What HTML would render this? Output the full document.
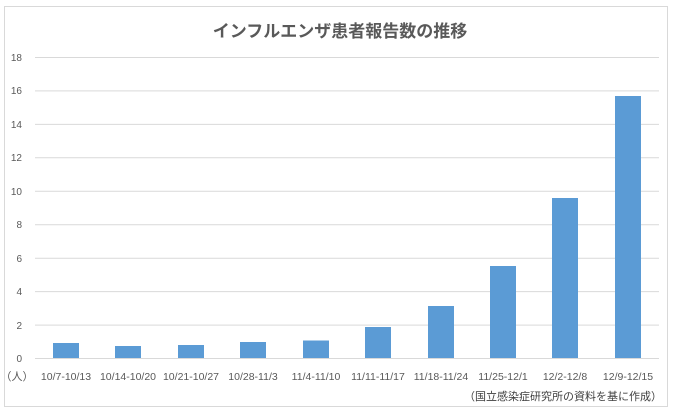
<!DOCTYPE html>
<html><head><meta charset="utf-8"><style>
body{margin:0;background:#fff;}
svg{display:block;font-family:"Liberation Sans","Noto Sans CJK JP",sans-serif;}
</style></head><body>
<svg width="680" height="413" xmlns="http://www.w3.org/2000/svg">
<rect x="4.5" y="6.5" width="663" height="400" fill="#fff" stroke="#d9d9d9"/>
<text x="340" y="37" text-anchor="middle" font-size="17" font-weight="bold" fill="#595959">インフルエンザ患者報告数の推移</text>
<g stroke="#d9d9d9" stroke-width="1">
<line x1="35" x2="659" y1="57.5" y2="57.5"/>
<line x1="35" x2="659" y1="90.9" y2="90.9"/>
<line x1="35" x2="659" y1="124.4" y2="124.4"/>
<line x1="35" x2="659" y1="157.8" y2="157.8"/>
<line x1="35" x2="659" y1="191.3" y2="191.3"/>
<line x1="35" x2="659" y1="224.7" y2="224.7"/>
<line x1="35" x2="659" y1="258.2" y2="258.2"/>
<line x1="35" x2="659" y1="291.6" y2="291.6"/>
<line x1="35" x2="659" y1="325.1" y2="325.1"/>
<line x1="35" x2="659" y1="358.5" y2="358.5"/>
</g>
<g font-size="10" fill="#595959" text-anchor="end">
<text x="22" y="61">18</text><text x="22" y="94">16</text><text x="22" y="128">14</text>
<text x="22" y="161">12</text><text x="22" y="195">10</text><text x="22" y="228">8</text>
<text x="22" y="262">6</text><text x="22" y="295">4</text><text x="22" y="329">2</text>
<text x="22" y="362">0</text>
</g>
<g fill="#5b9bd5">
<rect x="53" y="343" width="26" height="15"/>
<rect x="115" y="346" width="26" height="12"/>
<rect x="178" y="345" width="26" height="13"/>
<rect x="240" y="342" width="26" height="16"/>
<rect x="303" y="340.5" width="26" height="17.5"/>
<rect x="365" y="327" width="26" height="31"/>
<rect x="428" y="306" width="26" height="52"/>
<rect x="490" y="266" width="26" height="92"/>
<rect x="552" y="198" width="26" height="160"/>
<rect x="615" y="96" width="26" height="262"/>
</g>
<g font-size="10.5" fill="#595959" text-anchor="middle">
<text x="17" y="380" font-size="11">（人）</text>
<text x="66" y="380">10/7-10/13</text>
<text x="128" y="380">10/14-10/20</text>
<text x="191" y="380">10/21-10/27</text>
<text x="253" y="380">10/28-11/3</text>
<text x="316" y="380">11/4-11/10</text>
<text x="378" y="380">11/11-11/17</text>
<text x="441" y="380">11/18-11/24</text>
<text x="503" y="380">11/25-12/1</text>
<text x="565" y="380">12/2-12/8</text>
<text x="628" y="380">12/9-12/15</text>
</g>
<text x="662" y="400" text-anchor="end" font-size="11" fill="#404040">（国立感染症研究所の資料を基に作成）</text>
</svg>
</body></html>
